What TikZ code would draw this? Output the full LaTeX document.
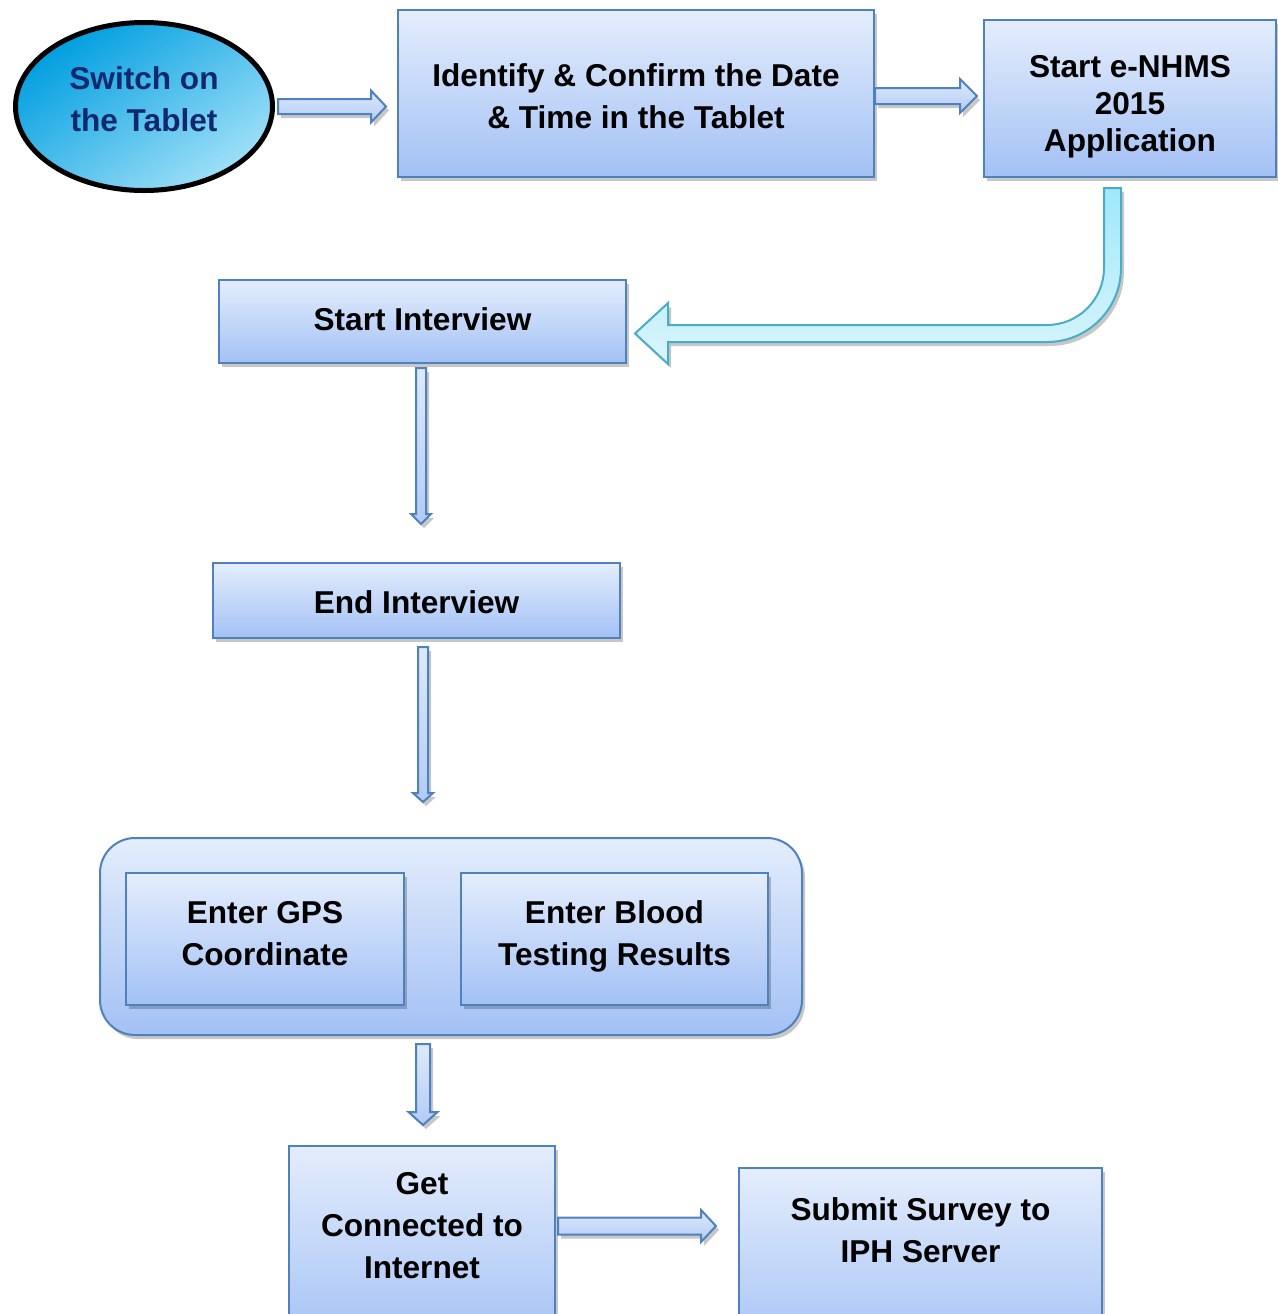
\documentclass[tikz,border=0pt]{standalone}
\usepackage{fontspec}
\setmainfont{Liberation Sans}
\usetikzlibrary{calc,shadows,shapes.geometric}

\definecolor{boxedge}{RGB}{79,129,189}
\definecolor{boxtop}{RGB}{228,237,252}
\definecolor{boxbot}{RGB}{163,193,245}
\definecolor{arrtop}{RGB}{222,233,252}
\definecolor{arrbot}{RGB}{178,203,246}
\definecolor{curvedge}{RGB}{75,172,198}
\definecolor{curvtop}{RGB}{160,232,250}
\definecolor{curvbot}{RGB}{218,245,253}
\definecolor{ovaldark}{RGB}{0,158,224}
\definecolor{ovallight}{RGB}{160,224,248}
\definecolor{ovaltext}{RGB}{16,40,110}

\tikzset{
  softshadow/.style={drop shadow={shadow xshift=1.5pt, shadow yshift=-2pt, fill=black, opacity=0.22}},
  labelfont/.style={font=\bfseries\fontsize{15.8}{21}\selectfont},
  % text placed below the top edge of a node: vertical offset (plus options), text
  caption/.style 2 args={label={[labelfont, align=center, anchor=center, yshift=#1]north:{#2}}},
  stepbox/.style={draw=boxedge, line width=1pt, top color=boxtop, bottom color=boxbot,
    inner sep=0pt, softshadow},
  groupbox/.style={stepbox, rounded corners=17.5pt},
  startoval/.style={ellipse, draw=black, line width=2.5pt, inner sep=0pt,
    top color=ovaldark, middle color=ovaldark, bottom color=ovallight, shading angle=35,
    minimum width=128.5pt, minimum height=84pt},
  blockarrow/.style={draw=boxedge, line width=1pt, top color=arrtop, bottom color=arrbot,
    line join=miter, softshadow},
  curvearrow/.style={draw=curvedge, line width=1pt, top color=curvtop, bottom color=curvbot,
    line join=miter, softshadow},
}

% block arrow pointing right: from, to, half shaft, half head, head length
\newcommand\hblock[5]{%
  \path[blockarrow] let \p1=#1, \p2=#2 in
    (\x1,\y1+#3) -- (\x2-#5,\y1+#3) -- (\x2-#5,\y1+#4) -- (\x2,\y1)
    -- (\x2-#5,\y1-#4) -- (\x2-#5,\y1-#3) -- (\x1,\y1-#3) -- cycle;}
% block arrow pointing down: from, to, half shaft, half head, head length
\newcommand\vblock[5]{%
  \path[blockarrow] let \p1=#1, \p2=#2 in
    (\x1-#3,\y1) -- (\x1-#3,\y2+#5) -- (\x1-#4,\y2+#5) -- (\x1,\y2)
    -- (\x1+#4,\y2+#5) -- (\x1+#3,\y2+#5) -- (\x1+#3,\y1) -- cycle;}

\begin{document}
\begin{tikzpicture}[x=0.5pt, y=-0.5pt]
  \useasboundingbox (0,0) rectangle (1278,1314);

  % first row
  \node[startoval, caption={-39.75pt, text=ovaltext}{Switch on\\the Tablet}] (oval) at (144,106.5) {};
  \node[stepbox, minimum width=238pt, minimum height=83.5pt,
        caption={-43.5pt}{Identify \& Confirm the Date\\\& Time in the Tablet}] (date) at (636,93.5) {};
  \node[stepbox, minimum width=146pt, minimum height=78.5pt,
        caption={-44pt, font=\bfseries\fontsize{15.8}{18.5}\selectfont}{Start e-NHMS\\2015\\Application}]
    (app) at (1130,98.5) {};

  % interview steps
  \node[stepbox, minimum width=203.5pt, minimum height=41.5pt,
        caption={-20pt}{Start Interview}] (start) at (422.5,321.5) {};
  \node[stepbox, minimum width=203.5pt, minimum height=37.5pt,
        caption={-20pt}{End Interview}] (endi) at (416.5,600.5) {};

  % grouped data entry
  \node[groupbox, minimum width=351pt, minimum height=98.5pt] (cont) at (451,936.5) {};
  \node[stepbox, minimum width=139pt, minimum height=66pt,
        caption={-31pt}{Enter GPS\\Coordinate}] (gps) at (265,939) {};
  \node[stepbox, minimum width=153.5pt, minimum height=66pt,
        caption={-32.25pt}{Enter Blood\\Testing Results}] (blood) at (614.5,939) {};

  % final steps (boxes run past the lower edge)
  \node[stepbox, anchor=north, minimum width=133pt, minimum height=100pt,
        caption={-40.5pt}{Get\\Connected to\\Internet}] (get) at (422,1145) {};
  \node[stepbox, anchor=north, minimum width=181.5pt, minimum height=95pt,
        caption={-31.5pt}{Submit Survey to\\IPH Server}] (submit) at (920.5,1167) {};

  % connectors
  \hblock{($(oval.east)+(3,0)$)}{($(date.west |- oval.east)+(-11,0)$)}{3.75pt}{8pt}{7.5pt}
  \hblock{($(date.east)+(0,2.5)$)}{($(app.west)+(-6,0)$)}{4pt}{8.5pt}{8.5pt}
  \vblock{($(start.south)+(-1.5,4)$)}{($(endi.north)+(0,-38)$)}{2.5pt}{5pt}{5pt}
  \vblock{($(endi.south)+(6.5,8)$)}{($(cont.north)+(0,-35)$)}{2.5pt}{5pt}{4.5pt}
  \vblock{($(cont.south)+(-28,8)$)}{($(get.north)+(0,-20)$)}{3.5pt}{7.25pt}{6.5pt}
  \hblock{($(get.north east)+(2,81)$)}{($(submit.north west)+(-22,0)$)}{4.25pt}{8pt}{7.5pt}

  % curved return arrow from the application box to the interview start
  \coordinate (turn) at ($(app.south)+(-17.5,10)$);
  \path[curvearrow, shift={(turn)}]
    (-8.5,0) -- (8.5,0) -- (8.5,80) arc[start angle=0, end angle=90, radius=74]
    -- (-444.5,154) -- (-444.5,176) -- (-477.5,145.5) -- (-444.5,115) -- (-444.5,137)
    -- (-65.5,137) arc[start angle=90, end angle=0, radius=57] -- cycle;
\end{tikzpicture}
\end{document}
